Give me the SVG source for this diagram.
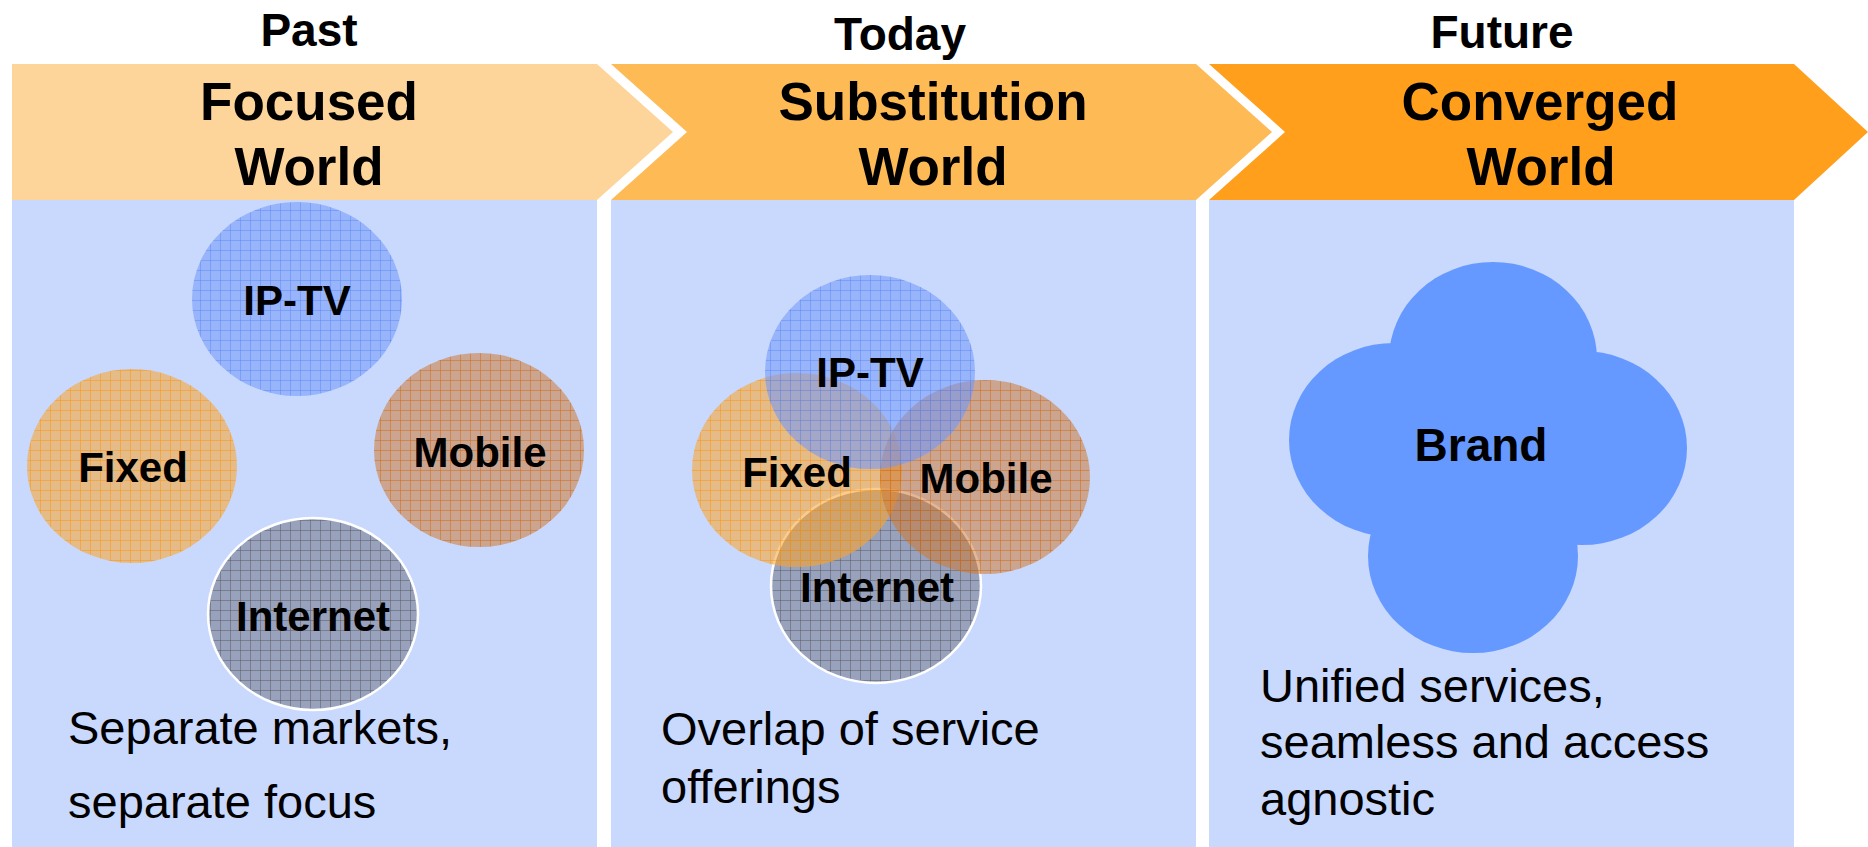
<svg xmlns="http://www.w3.org/2000/svg" width="1868" height="847" viewBox="0 0 1868 847">
<style>
.hdr{font-family:"Liberation Sans",Arial,sans-serif;font-weight:bold;font-size:46px;fill:#000;text-anchor:middle}
.ttl{font-family:"Liberation Sans",Arial,sans-serif;font-weight:bold;font-size:53px;fill:#000;text-anchor:middle}
.lbl{font-family:"Liberation Sans",Arial,sans-serif;font-weight:bold;font-size:42px;fill:#000;text-anchor:middle}
.brand{font-family:"Liberation Sans",Arial,sans-serif;font-weight:bold;font-size:46px;fill:#000;text-anchor:middle}
.desc{font-family:"Liberation Sans",Arial,sans-serif;font-size:47px;fill:#000}
.panel{fill:#C9D9FD}
.inet{stroke:#FFFFFF;stroke-width:2.5}
</style>
<defs>
<pattern id="pIptv" width="10" height="10" patternUnits="userSpaceOnUse">
<rect width="10" height="10" fill="rgb(110,150,250)" fill-opacity="0.55"/>
<path d="M0 0.5H10M0.5 0V10" stroke="rgb(85,130,245)" stroke-opacity="0.45" stroke-width="1" fill="none"/>
</pattern>
<pattern id="pFixed" width="10" height="10" patternUnits="userSpaceOnUse">
<rect width="10" height="10" fill="rgb(252,165,45)" fill-opacity="0.56"/>
<path d="M0 0.5H10M0.5 0V10" stroke="rgb(250,150,15)" stroke-opacity="0.5" stroke-width="1" fill="none"/>
</pattern>
<pattern id="pMobile" width="10" height="10" patternUnits="userSpaceOnUse">
<rect width="10" height="10" fill="rgb(205,118,50)" fill-opacity="0.53"/>
<path d="M0 0.5H10M0.5 0V10" stroke="rgb(205,105,20)" stroke-opacity="0.5" stroke-width="1" fill="none"/>
</pattern>
<pattern id="pInet" width="10" height="10" patternUnits="userSpaceOnUse">
<rect width="10" height="10" fill="rgb(108,112,128)" fill-opacity="0.52"/>
<path d="M0 0.5H10M0.5 0V10" stroke="rgb(90,90,95)" stroke-opacity="0.5" stroke-width="1" fill="none"/>
</pattern>
</defs>
<rect width="1868" height="847" fill="#FFFFFF"/>

<g id="banner">
<polygon id="arrow-past" points="12,64 597,64 673,132 597,200 12,200" fill="#FDD59A"/>
<polygon id="arrow-today" points="611,64 1196,64 1272,132 1196,200 611,200 687,132" fill="#FDBA55"/>
<polygon id="arrow-future" points="1209,64 1794,64 1868,132 1794,200 1209,200 1285,132" fill="#FF9F1C"/>
</g>

<g id="headers">
<text class="hdr" x="309" y="46">Past</text>
<text class="hdr" x="900" y="50">Today</text>
<text class="hdr" x="1502" y="48">Future</text>
<text class="ttl" x="309" y="120">Focused</text>
<text class="ttl" x="309" y="185">World</text>
<text class="ttl" x="933" y="120">Substitution</text>
<text class="ttl" x="933" y="185">World</text>
<text class="ttl" x="1540" y="120">Converged</text>
<text class="ttl" x="1541" y="185">World</text>
</g>

<g id="panel-past">
<rect class="panel" x="12" y="200" width="585" height="647"/>
<g id="past-iptv"><ellipse cx="297" cy="299" rx="105" ry="97" fill="url(#pIptv)"/><text class="lbl" x="297" y="315">IP-TV</text></g>
<g id="past-fixed"><ellipse cx="132" cy="466" rx="105" ry="97" fill="url(#pFixed)"/><text class="lbl" x="133" y="482">Fixed</text></g>
<g id="past-mobile"><ellipse cx="479" cy="450" rx="105" ry="97" fill="url(#pMobile)"/><text class="lbl" x="480" y="467">Mobile</text></g>
<g id="past-internet"><ellipse class="inet" cx="313" cy="614" rx="105" ry="96" fill="url(#pInet)"/><text class="lbl" x="313" y="631">Internet</text></g>
<text class="desc" x="68" y="744">Separate markets,</text>
<text class="desc" x="68" y="818">separate focus</text>
</g>

<g id="panel-today">
<rect class="panel" x="611" y="200" width="585" height="647"/>
<g id="today-internet"><ellipse class="inet" cx="876" cy="586" rx="105" ry="97" fill="url(#pInet)"/></g>
<g id="today-fixed"><ellipse cx="797" cy="470" rx="105" ry="97" fill="url(#pFixed)"/></g>
<g id="today-mobile"><ellipse cx="985" cy="477" rx="105" ry="97" fill="url(#pMobile)"/></g>
<g id="today-iptv"><ellipse cx="870" cy="372" rx="105" ry="97" fill="url(#pIptv)"/></g>
<g id="today-labels">
<text class="lbl" x="870" y="387">IP-TV</text>
<text class="lbl" x="797" y="487">Fixed</text>
<text class="lbl" x="986" y="493">Mobile</text>
<text class="lbl" x="877" y="602">Internet</text>
</g>
<text class="desc" x="661" y="745">Overlap of service</text>
<text class="desc" x="661" y="803">offerings</text>
</g>

<g id="panel-future">
<rect class="panel" x="1209" y="200" width="585" height="647"/>
<g id="brand" fill="#6699FF">
<ellipse cx="1493" cy="359" rx="104" ry="97"/>
<ellipse cx="1394" cy="440" rx="105" ry="97"/>
<ellipse cx="1582" cy="448" rx="105" ry="97"/>
<ellipse cx="1473" cy="556" rx="105" ry="97"/>
<ellipse cx="1485" cy="452" rx="110" ry="100"/>
<text class="brand" x="1481" y="461">Brand</text>
</g>
<text class="desc" x="1260" y="702">Unified services,</text>
<text class="desc" x="1260" y="758">seamless and access</text>
<text class="desc" x="1260" y="815">agnostic</text>
</g>

<g id="connectors"/>
</svg>
